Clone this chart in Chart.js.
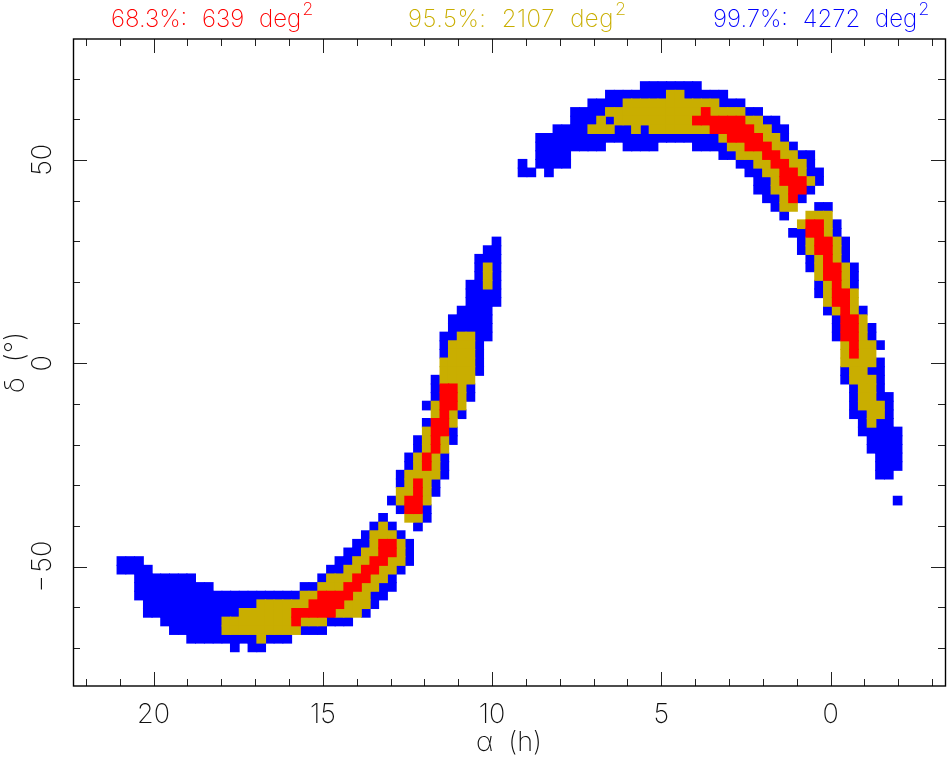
<!DOCTYPE html>
<html>
<head>
<meta charset="utf-8">
<title>Sky localisation</title>
<style>
  html, body { margin: 0; padding: 0; background: #fff; }
  canvas { display: block; }
</style>
<script src="https://cdn.jsdelivr.net/npm/chart.js@4/dist/chart.umd.min.js"></script>
</head>
<body>
<canvas id="sky-chart" width="947" height="759"></canvas>
<script>
// Pixel columns (right ascension, hours)
const alphaColumns = [
    20.95, 20.69, 20.43, 20.17, 19.92, 19.66, 19.40, 19.14, 18.89, 18.63,
    18.37, 18.11, 17.85, 17.60, 17.34, 17.08, 16.82, 16.57, 16.31, 16.05,
    15.79, 15.54, 15.28, 15.02, 14.76, 14.51, 14.25, 13.99, 13.73, 13.48,
    13.22, 12.96, 12.70, 12.45, 12.19, 11.93, 11.67, 11.41, 11.16, 10.90,
    10.64, 10.38, 10.13, 9.87, 9.61, 9.35, 9.10, 8.84, 8.58, 8.32,
    8.07, 7.81, 7.55, 7.29, 7.04, 6.78, 6.52, 6.26, 6.00, 5.75,
    5.49, 5.23, 4.97, 4.72, 4.46, 4.20, 3.95, 3.69, 3.43, 3.17,
    2.92, 2.66, 2.40, 2.14, 1.88, 1.63, 1.37, 1.11, 0.85, 0.60,
    0.34, 0.08, -0.18, -0.43, -0.69, -0.95, -1.21, -1.46, -1.72, -1.98
];

// Pixel rows (declination, degrees)
const deltaRows = [
    68.16, 66.04, 63.91, 61.79, 59.67, 57.55, 55.42, 53.30, 51.18, 49.05,
    46.93, 44.81, 42.68, 40.56, 38.44, 36.31, 34.19, 32.07, 29.95, 27.82,
    25.70, 23.58, 21.45, 19.33, 17.21, 15.08, 12.96, 10.84, 8.72, 6.59,
    4.47, 2.35, 0.22, -1.90, -4.02, -6.15, -8.27, -10.39, -12.52, -14.64,
    -16.76, -18.88, -21.01, -23.13, -25.25, -27.38, -29.50, -31.62, -33.75, -35.87,
    -37.99, -40.12, -42.24, -44.36, -46.48, -48.61, -50.73, -52.85, -54.98, -57.10,
    -59.22, -61.35, -63.47, -65.59, -67.72, -69.84
];

// Filled runs per level: [row, first column, last column]
const redRuns = [
    [3,67,67],[4,66,71],[5,68,72],[6,70,73],[7,72,74],[8,74,75],[9,75,76],[10,76,77],[11,76,78],
    [12,77,78],[13,77,77],[16,79,80],[17,79,80],[18,80,81],[19,80,81],[20,81,81],[21,81,82],
    [22,81,82],[23,82,82],[24,82,83],[25,82,83],[26,83,83],[27,83,84],[28,83,84],[29,83,84],
    [30,84,84],[31,84,84],[35,37,38],[36,37,38],[37,37,38],[38,37,37],[39,36,37],[40,36,37],
    [41,36,36],[42,36,36],[43,35,35],[44,35,35],[46,34,34],[47,34,34],[48,33,34],[49,33,34],
    [53,30,31],[54,30,31],[55,29,30],[56,28,29],[57,27,28],[58,26,27],[59,23,26],[60,22,25],
    [61,20,24],[62,20,20]
];

const goldRuns = [
    [1,63,64],[2,58,68],[3,56,66],[3,68,71],[4,55,55],[4,57,65],[4,72,73],[5,54,56],[5,59,59],
    [5,61,67],[5,73,74],[6,69,69],[6,74,75],[7,70,71],[7,75,76],[8,71,73],[8,76,77],[9,73,74],
    [9,77,78],[10,74,75],[10,78,78],[11,75,75],[11,79,79],[12,75,76],[13,76,76],[14,76,77],
    [15,79,81],[16,78,78],[16,81,81],[17,81,81],[18,79,79],[18,82,82],[19,79,79],[19,82,82],
    [20,80,80],[20,82,82],[21,42,42],[21,80,80],[21,83,83],[22,42,42],[22,80,80],[22,83,83],
    [23,42,42],[23,81,81],[23,83,83],[24,81,81],[24,84,84],[25,81,81],[25,84,84],[26,82,82],
    [26,84,84],[27,85,85],[28,85,85],[29,39,40],[29,85,85],[30,38,40],[30,83,83],[30,85,86],
    [31,38,40],[31,83,83],[31,85,86],[32,37,40],[32,83,86],[33,37,40],[33,84,85],[34,37,40],
    [34,84,86],[35,39,39],[35,85,86],[36,39,39],[36,85,86],[37,36,36],[37,39,39],[37,85,87],
    [38,36,36],[38,38,38],[38,86,87],[39,38,38],[39,86,86],[40,35,35],[41,35,35],[41,37,37],
    [42,35,35],[42,37,37],[43,34,34],[43,36,36],[44,34,34],[44,36,36],[45,33,36],[46,33,33],
    [46,35,35],[47,32,33],[47,35,35],[48,32,32],[48,35,35],[50,33,34],[51,30,30],[52,29,31],
    [53,29,29],[53,32,32],[54,28,29],[54,32,32],[55,27,28],[55,31,32],[56,26,27],[56,30,31],
    [57,24,26],[57,29,30],[58,23,25],[58,28,29],[59,21,22],[59,27,28],[60,16,21],[60,26,28],
    [61,14,19],[61,25,27],[62,12,19],[62,21,23],[63,12,20],[64,16,16]
];

const blueRuns = [
    [0,60,66],[1,56,62],[1,65,69],[2,54,57],[2,69,71],[3,52,55],[3,72,73],[4,52,54],[4,56,56],
    [4,74,75],[5,50,53],[5,57,58],[5,60,60],[5,75,76],[6,48,68],[6,76,76],[7,48,55],[7,58,61],
    [7,66,69],[7,77,77],[8,48,51],[8,69,70],[8,78,79],[9,46,46],[9,48,51],[9,71,72],[9,79,79],
    [10,46,47],[10,49,49],[10,72,73],[10,79,80],[11,73,74],[11,80,80],[12,73,74],[12,79,79],
    [13,74,75],[13,78,78],[14,75,75],[14,80,81],[15,76,76],[16,82,82],[17,77,78],[17,82,82],
    [18,43,43],[18,78,78],[18,83,83],[19,42,43],[19,78,78],[19,83,83],[20,41,43],[20,79,79],
    [20,83,83],[21,41,41],[21,43,43],[21,79,79],[21,84,84],[22,41,41],[22,43,43],[22,84,84],
    [23,40,41],[23,43,43],[23,80,80],[23,84,84],[24,40,43],[24,80,80],[25,40,43],[26,39,42],
    [26,81,81],[26,85,85],[27,38,42],[27,82,82],[28,38,42],[28,82,82],[28,86,86],[29,37,38],
    [29,41,42],[29,82,82],[29,86,86],[30,37,37],[30,41,41],[30,87,87],[31,37,37],[31,41,41],
    [32,41,41],[32,87,87],[33,41,41],[33,83,83],[33,86,87],[34,36,36],[34,83,83],[34,87,87],
    [35,36,36],[35,40,40],[35,84,84],[35,87,87],[36,36,36],[36,40,40],[36,84,84],[36,87,88],
    [37,35,35],[37,84,84],[37,88,88],[38,39,39],[38,84,85],[38,88,88],[39,35,35],[39,85,85],
    [39,87,88],[40,38,38],[40,85,89],[41,34,34],[41,38,38],[41,86,89],[42,34,34],[42,86,89],
    [43,33,33],[43,37,37],[43,87,89],[44,33,33],[44,37,37],[44,87,89],[45,32,32],[45,37,37],
    [45,87,88],[46,32,32],[46,36,36],[47,36,36],[48,31,31],[48,89,89],[49,32,32],[49,35,35],
    [50,30,30],[50,35,35],[51,29,29],[51,31,31],[51,34,34],[52,28,28],[52,32,32],[53,27,28],
    [53,33,33],[54,26,27],[54,33,33],[55,0,2],[55,25,26],[55,33,33],[56,0,3],[56,24,25],
    [56,32,32],[57,2,8],[57,23,23],[57,31,31],[58,2,10],[58,21,22],[58,30,31],[59,2,20],
    [59,29,30],[60,3,15],[60,29,29],[61,3,13],[61,28,28],[62,5,11],[62,24,26],[63,6,11],
    [63,21,23],[64,8,15],[64,17,19],[65,13,13],[65,15,16]
];

// Axis ticks
const alphaMajorTicks = [20, 15, 10, 5, 0];
const alphaMinorTicks = [22, 21, 19, 18, 17, 16, 14, 13, 12, 11, 9, 8, 7, 6, 4, 3, 2, 1, -1, -2, -3];
const deltaMajorTicks = [50, 0, -50];
const deltaMinorTicks = [70, 60, 40, 30, 20, 10, -10, -20, -30, -40, -60, -70];

// Coverage labels above the plot
const coverageLabels = ["68.3%: 639 deg", "95.5%: 2107 deg", "99.7%: 4272 deg"];

const RED = "#ff0000";
const GOLD = "#c9ae00";
const BLUE = "#0000ff";
const THIN_FONT = "Inter";

// Expand [row, from, to] runs into one scatter point per sky pixel
function cellsFromRuns(runs) {
    const cells = [];
    runs.forEach(([row, from, to]) => {
        for (let col = from; col <= to; col++) {
            cells.push({ x: alphaColumns[col], y: deltaRows[row] });
        }
    });
    return cells;
}

function cellDataset(label, runs, color) {
    return {
        label: label,
        data: cellsFromRuns(runs),
        pointStyle: "rect",
        pointRadius: 6.85,
        pointBorderWidth: 0,
        backgroundColor: color,
        borderColor: color
    };
}

// Frame with inward ticks on all four sides
const frameTicks = {
    id: "frameTicks",
    afterDraw(chart) {
        const { ctx, chartArea: area, scales: { x, y } } = chart;
        ctx.save();
        ctx.strokeStyle = "#222";
        ctx.lineWidth = 1;
        ctx.beginPath();
        const xTick = (value, size) => {
            const px = Math.round(x.getPixelForValue(value)) + 0.5;
            ctx.moveTo(px, area.top); ctx.lineTo(px, area.top + size);
            ctx.moveTo(px, area.bottom); ctx.lineTo(px, area.bottom - size);
        };
        const yTick = (value, size) => {
            const py = Math.round(y.getPixelForValue(value)) + 0.5;
            ctx.moveTo(area.left, py); ctx.lineTo(area.left + size, py);
            ctx.moveTo(area.right, py); ctx.lineTo(area.right - size, py);
        };
        alphaMajorTicks.forEach(v => xTick(v, 14));
        alphaMinorTicks.forEach(v => xTick(v, 7));
        deltaMajorTicks.forEach(v => yTick(v, 14));
        deltaMinorTicks.forEach(v => yTick(v, 7));
        ctx.stroke();
        ctx.strokeStyle = "#000";
        ctx.lineWidth = 1.4;
        ctx.strokeRect(area.left + 0.5, area.top, area.right - area.left, area.bottom - area.top);
        ctx.restore();
    }
};

// Coverage text with its squared superscript
const coverageText = {
    id: "coverageText",
    afterDraw(chart) {
        const { ctx } = chart;
        const starts = [111, 408, 713];
        const spacing = ["0px", "0.5px", "0px"];
        const colors = [RED, GOLD, BLUE];
        ctx.save();
        ctx.textBaseline = "alphabetic";
        ctx.textAlign = "left";
        coverageLabels.forEach((text, i) => {
            ctx.fillStyle = colors[i];
            ctx.font = "200 24px " + THIN_FONT;
            ctx.letterSpacing = spacing[i];
            ctx.wordSpacing = "8px";
            ctx.fillText(text, starts[i], 27);
            const end = starts[i] + ctx.measureText(text).width;
            ctx.font = "200 18px " + THIN_FONT;
            ctx.fillText("2", end + 1, 15);
        });
        ctx.restore();
    }
};

// Sky Chart
function initChart() {
    const ctx = document.getElementById("sky-chart").getContext("2d");
    new Chart(ctx, {
        type: "scatter",
        data: {
            datasets: [
                cellDataset("68.3%", redRuns, RED),
                cellDataset("95.5%", goldRuns, GOLD),
                cellDataset("99.7%", blueRuns, BLUE)
            ]
        },
        options: {
            responsive: false,
            animation: false,
            events: [],
            layout: { autoPadding: false, padding: { top: 39, right: 2, left: 0, bottom: 0 } },
            plugins: { legend: { display: false }, tooltip: { enabled: false } },
            scales: {
                x: {
                    type: "linear",
                    reverse: true,
                    min: -3.38,
                    max: 22.38,
                    grid: { display: false },
                    border: { display: false },
                    afterBuildTicks: scale => { scale.ticks = alphaMajorTicks.map(v => ({ value: v })); },
                    afterFit: scale => {
                        scale.height = 73;
                        scale.paddingLeft = 0;
                        scale.paddingRight = 0;
                    },
                    ticks: {
                        color: "#111",
                        padding: 5,
                        maxRotation: 0,
                        autoSkip: false,
                        font: { family: THIN_FONT, size: 27, weight: "200" }
                    },
                    title: {
                        display: true,
                        text: "α  (h)",
                        color: "#111",
                        padding: 0,
                        font: { family: THIN_FONT, size: 27, weight: "200" }
                    }
                },
                y: {
                    type: "linear",
                    min: -79.33,
                    max: 79.72,
                    grid: { display: false },
                    border: { display: false },
                    afterBuildTicks: scale => { scale.ticks = deltaMajorTicks.map(v => ({ value: v })); },
                    afterFit: scale => {
                        scale.width = 73;
                        scale.paddingTop = 0;
                        scale.paddingBottom = 0;
                    },
                    ticks: {
                        color: "#111",
                        padding: -4,
                        minRotation: 90,
                        maxRotation: 90,
                        crossAlign: "center",
                        autoSkip: false,
                        callback: v => String(v).replace("-", "\u2212\u200a"),
                        font: { family: THIN_FONT, size: 27, weight: "200" }
                    },
                    title: {
                        display: true,
                        text: "δ  (°)",
                        color: "#111",
                        padding: 0,
                        font: { family: THIN_FONT, size: 27, weight: "200" }
                    }
                }
            }
        },
        plugins: [frameTicks, coverageText]
    });
}

document.addEventListener("DOMContentLoaded", initChart);
</script>
</body>
</html>
